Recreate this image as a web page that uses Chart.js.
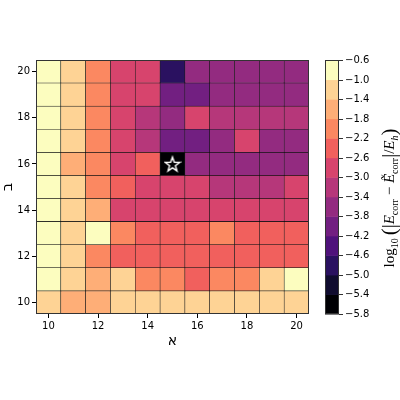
<!DOCTYPE html>
<html>
<head>
<meta charset="utf-8">
<script src="https://cdn.jsdelivr.net/npm/chart.js@4.4.0/dist/chart.umd.min.js"></script>
<style>
  html, body { margin: 0; padding: 0; background: #fff; }
</style>
</head>
<body>
<canvas id="heatmap" width="400" height="400"></canvas>
<script>
// axes
const xLabels = ['10', '11', '12', '13', '14', '15', '16', '17', '18', '19', '20'];
const yValues = [10, 11, 12, 13, 14, 15, 16, 17, 18, 19, 20];
const yTicks = [10, 12, 14, 16, 18, 20];

// colorbar boundaries and colours (magma, 13 bins)
const cbBounds = [-5.8, -5.4, -5.0, -4.6, -4.2, -3.8, -3.4, -3.0, -2.6, -2.2, -1.8, -1.4, -1.0, -0.6];
const magma = ['#000004', '#100c2f', '#2a1160', '#4f127b', '#721f81', '#932b80', '#b6377a',
               '#d7446d', '#f1605d', '#fb8861', '#feae77', '#fed395', '#fcfdbf'];

// log10 error, one row per y value, columns x = 10..20
const row10 = [-1.2, -1.6, -1.6, -1.2, -1.2, -1.2, -1.2, -1.2, -1.2, -1.2, -1.2];
const row11 = [-0.8, -1.2, -1.6, -1.2, -2.0, -2.0, -2.4, -2.0, -2.0, -1.2, -0.8];
const row12 = [-0.8, -1.2, -2.0, -2.4, -2.4, -2.4, -2.4, -2.4, -2.4, -2.4, -2.4];
const row13 = [-0.8, -1.2, -0.8, -2.0, -2.4, -2.4, -2.4, -2.0, -2.4, -2.4, -2.4];
const row14 = [-0.8, -1.2, -1.6, -2.8, -2.8, -2.8, -2.8, -2.8, -2.8, -2.8, -2.8];
const row15 = [-0.8, -1.2, -2.0, -2.4, -2.8, -2.8, -2.8, -3.2, -3.2, -3.2, -2.8];
const row16 = [-0.8, -1.6, -2.0, -2.8, -2.4, -5.6, -3.6, -3.6, -3.6, -3.6, -3.6];
const row17 = [-0.8, -1.2, -2.0, -2.8, -3.2, -4.0, -4.0, -3.6, -2.8, -3.6, -3.6];
const row18 = [-0.8, -1.2, -2.0, -2.8, -3.2, -3.6, -2.8, -3.2, -3.2, -3.2, -3.2];
const row19 = [-0.8, -1.2, -2.0, -2.8, -2.8, -4.0, -4.0, -3.6, -3.6, -3.6, -3.6];
const row20 = [-0.8, -1.2, -2.0, -2.8, -2.8, -4.8, -3.6, -3.6, -3.6, -3.6, -3.6];
const rows = [row10, row11, row12, row13, row14, row15, row16, row17, row18, row19, row20];

// best point
const bestX = '15';
const bestY = 16;

function colorFor(v) {
  let i = Math.floor((v - cbBounds[0]) / 0.4);
  i = Math.max(0, Math.min(magma.length - 1, i));
  return magma[i];
}

// white outlined star marker
const star = document.createElement('canvas');
star.width = 18; star.height = 18;
(function () {
  const s = star.getContext('2d');
  s.beginPath();
  for (let k = 0; k < 10; k++) {
    const r = k % 2 === 0 ? 7.6 : 3.1;
    const a = -Math.PI / 2 + k * Math.PI / 5;
    const px = 9 + r * Math.cos(a), py = 9.8 + r * Math.sin(a);
    k === 0 ? s.moveTo(px, py) : s.lineTo(px, py);
  }
  s.closePath();
  s.strokeStyle = '#fff';
  s.lineWidth = 1.4;
  s.stroke();
})();

const tickFont = { family: 'DejaVu Sans', size: 10 };

const datasets = [{
  type: 'scatter',
  data: [{ x: bestX, y: bestY }],
  pointStyle: star,
  order: -1
}];
rows.forEach((vals, r) => {
  datasets.push({
    type: 'bar',
    label: 'y=' + yValues[r],
    data: vals.map(() => [yValues[r] - 0.5, yValues[r] + 0.5]),
    backgroundColor: vals.map(colorFor),
    borderColor: 'rgba(0,0,0,0.85)',
    borderWidth: 0.6,
    borderSkipped: false,
    barPercentage: 1,
    categoryPercentage: 1,
    grouped: false
  });
});

function drawMathLabel(ctx, cx, cy) {
  const serif = 'Liberation Serif';
  const parts = [
    { t: 'log', f: '15px ' + serif, dy: 0 },
    { t: '10', f: '10px ' + serif, dy: 4 },
    { t: '\u2009', f: '15px ' + serif, dy: 0 },
    { t: '(', f: '21px ' + serif, dy: 2 },
    { t: '|', f: '20px ' + serif, dy: 2 },
    { t: 'E', f: 'italic 15px ' + serif, dy: 0 },
    { t: 'corr', f: '10px ' + serif, dy: 4 },
    { t: ' \u2212 ', f: '15px ' + serif, dy: 0 },
    { t: '\u1EBC', f: 'italic 15px ' + serif, dy: 0 },
    { t: 'corr', f: '10px ' + serif, dy: 4 },
    { t: '|', f: '20px ' + serif, dy: 2 },
    { t: '/', f: '15px ' + serif, dy: 0 },
    { t: 'E', f: 'italic 15px ' + serif, dy: 0 },
    { t: 'h', f: 'italic 10px ' + serif, dy: 4 },
    { t: ')', f: '21px ' + serif, dy: 2 }
  ];
  let total = 0;
  parts.forEach(p => { ctx.font = p.f; p.w = ctx.measureText(p.t).width; total += p.w; });
  ctx.save();
  ctx.translate(cx, cy);
  ctx.rotate(-Math.PI / 2);
  ctx.fillStyle = '#000';
  ctx.textBaseline = 'alphabetic';
  ctx.textAlign = 'left';
  let x = -total / 2;
  parts.forEach(p => { ctx.font = p.f; ctx.fillText(p.t, x, p.dy); x += p.w; });
  ctx.restore();
}

const frameAndColorbar = {
  id: 'frameAndColorbar',
  afterDraw(chart) {
    const { ctx, chartArea: a } = chart;
    ctx.save();
    ctx.strokeStyle = '#333';
    ctx.lineWidth = 1;
    ctx.strokeRect(a.left + 0.5, a.top + 0.5, a.right - a.left - 1, a.bottom - a.top - 1);

    const cbL = 325, cbR = 339;
    const h = (a.bottom - a.top) / magma.length;
    magma.forEach((c, i) => {
      ctx.fillStyle = c;
      ctx.fillRect(cbL, a.bottom - (i + 1) * h, cbR - cbL, h + 0.5);
    });
    ctx.strokeRect(cbL + 0.5, a.top + 0.5, cbR - cbL - 1, a.bottom - a.top - 1);

    ctx.font = '10px DejaVu Sans';
    ctx.fillStyle = '#000';
    ctx.textBaseline = 'middle';
    ctx.textAlign = 'left';
    cbBounds.forEach((b, i) => {
      const y = Math.round(a.bottom - i * h) + 0.5;
      ctx.beginPath();
      ctx.moveTo(cbR, y);
      ctx.lineTo(cbR + 4, y);
      ctx.stroke();
      ctx.fillText('\u2212' + Math.abs(b).toFixed(1), cbR + 6, y);
    });
    ctx.restore();

    drawMathLabel(ctx, 394, 198);
  }
};

new Chart(document.getElementById('heatmap'), {
  type: 'bar',
  data: { labels: xLabels, datasets: datasets },
  options: {
    responsive: false,
    animation: false,
    layout: { padding: { top: 60, right: 91, bottom: 50, left: 0 } },
    plugins: { legend: { display: false }, tooltip: { enabled: false } },
    scales: {
      x: {
        type: 'category',
        offset: true,
        grid: {
          offset: false,
          drawOnChartArea: false,
          tickLength: 4,
          tickColor: c => (c.index % 2 === 0 ? '#000' : 'rgba(0,0,0,0)')
        },
        border: { display: false },
        ticks: {
          autoSkip: false,
          maxRotation: 0,
          padding: 2,
          font: tickFont,
          color: '#000',
          callback: (v, i) => (i % 2 === 0 ? xLabels[i] : '')
        },
        title: { display: true, text: '\u05D0', font: { family: 'DejaVu Sans', size: 14 }, color: '#000', padding: 0 },
        afterFit: s => { s.height = 36; }
      },
      y: {
        type: 'linear',
        min: 9.5,
        max: 20.5,
        afterBuildTicks: s => { s.ticks = yTicks.map(v => ({ value: v })); },
        grid: { drawOnChartArea: false, tickLength: 4, tickColor: '#000' },
        border: { display: false },
        ticks: { font: tickFont, color: '#000', padding: 2 },
        title: { display: true, text: '\u05D1', font: { family: 'DejaVu Sans', size: 14 }, color: '#000', padding: 0 },
        afterFit: s => { s.width = 36; }
      }
    }
  },
  plugins: [frameAndColorbar]
});
</script>
</body>
</html>
